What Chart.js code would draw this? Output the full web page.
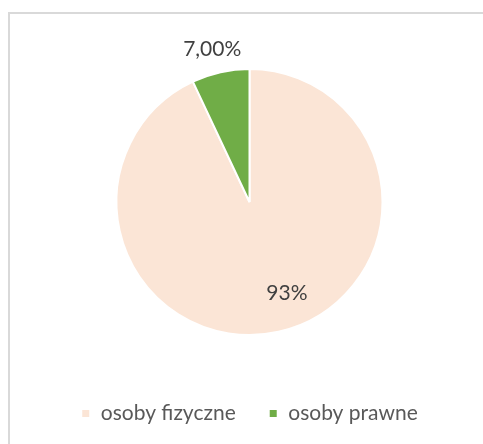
<!DOCTYPE html>
<html lang="pl">
  <head>
    <meta charset="UTF-8" />
    <title>Osoby fizyczne i prawne</title>
    <script src="https://cdn.jsdelivr.net/npm/chart.js"></script>
    <style>
      html, body { margin: 0; padding: 0; background: #fff; }
      .wrap { position: relative; width: 483px; height: 444px; overflow: hidden; }
      .frame {
        position: absolute; left: 8px; top: 12px; width: 500px; height: 460px;
        border: 2px solid #d9d9d9; box-sizing: border-box;
      }
      canvas { position: absolute; left: 0; top: 0; }
    </style>
  </head>
  <body>
    <div class="wrap">
      <div class="frame"></div>
      <canvas id="pie" width="483" height="444"></canvas>
    </div>

    <script>
      // dane wykresu
      const categories = ["osoby fizyczne", "osoby prawne"];
      const values = [93, 7];
      const valueLabels = ["93%", "7,00%"];
      const colors = ["#FBE5D6", "#70AD47"];

      // etykiety danych (jak w Excelu)
      const sliceLabels = {
        id: "sliceLabels",
        afterDatasetsDraw(chart, args, opts) {
          const ctx = chart.ctx;
          const arcs = chart.getDatasetMeta(0).data;
          ctx.save();
          ctx.font = opts.font;
          ctx.fillStyle = opts.color;
          ctx.textAlign = "center";
          ctx.textBaseline = "middle";
          arcs.forEach((arc, i) => {
            const p = arc.getProps(["x", "y", "startAngle", "endAngle", "outerRadius"], true);
            const mid = (p.startAngle + p.endAngle) / 2 + opts.angleShift[i];
            const r = p.outerRadius * opts.distance[i];
            ctx.fillText(valueLabels[i], p.x + Math.cos(mid) * r, p.y + Math.sin(mid) * r);
          });
          ctx.restore();
        },
      };

      const fontFamily = "Lato, 'Open Sans', sans-serif";

      new Chart(document.getElementById("pie"), {
        type: "pie",
        data: {
          labels: categories,
          datasets: [
            {
              data: values,
              backgroundColor: colors,
              borderColor: "#ffffff",
              borderWidth: 2,
              radius: 133,
              hoverOffset: 0,
            },
          ],
        },
        options: {
          responsive: false,
          animation: false,
          layout: { padding: { left: 16, right: 0, top: 34, bottom: 10 } },
          plugins: {
            tooltip: { enabled: false },
            legend: {
              position: "bottom",
              labels: {
                boxWidth: 9,
                boxHeight: 9,
                padding: 33,
                color: "#595959",
                font: { family: fontFamily, size: 21 },
              },
            },
            sliceLabels: {
              font: "21px " + fontFamily,
              color: "#404040",
              angleShift: [-0.17, -0.02],
              distance: [0.74, 1.18],
            },
          },
        },
        plugins: [sliceLabels],
      });
    </script>
  </body>
</html>
